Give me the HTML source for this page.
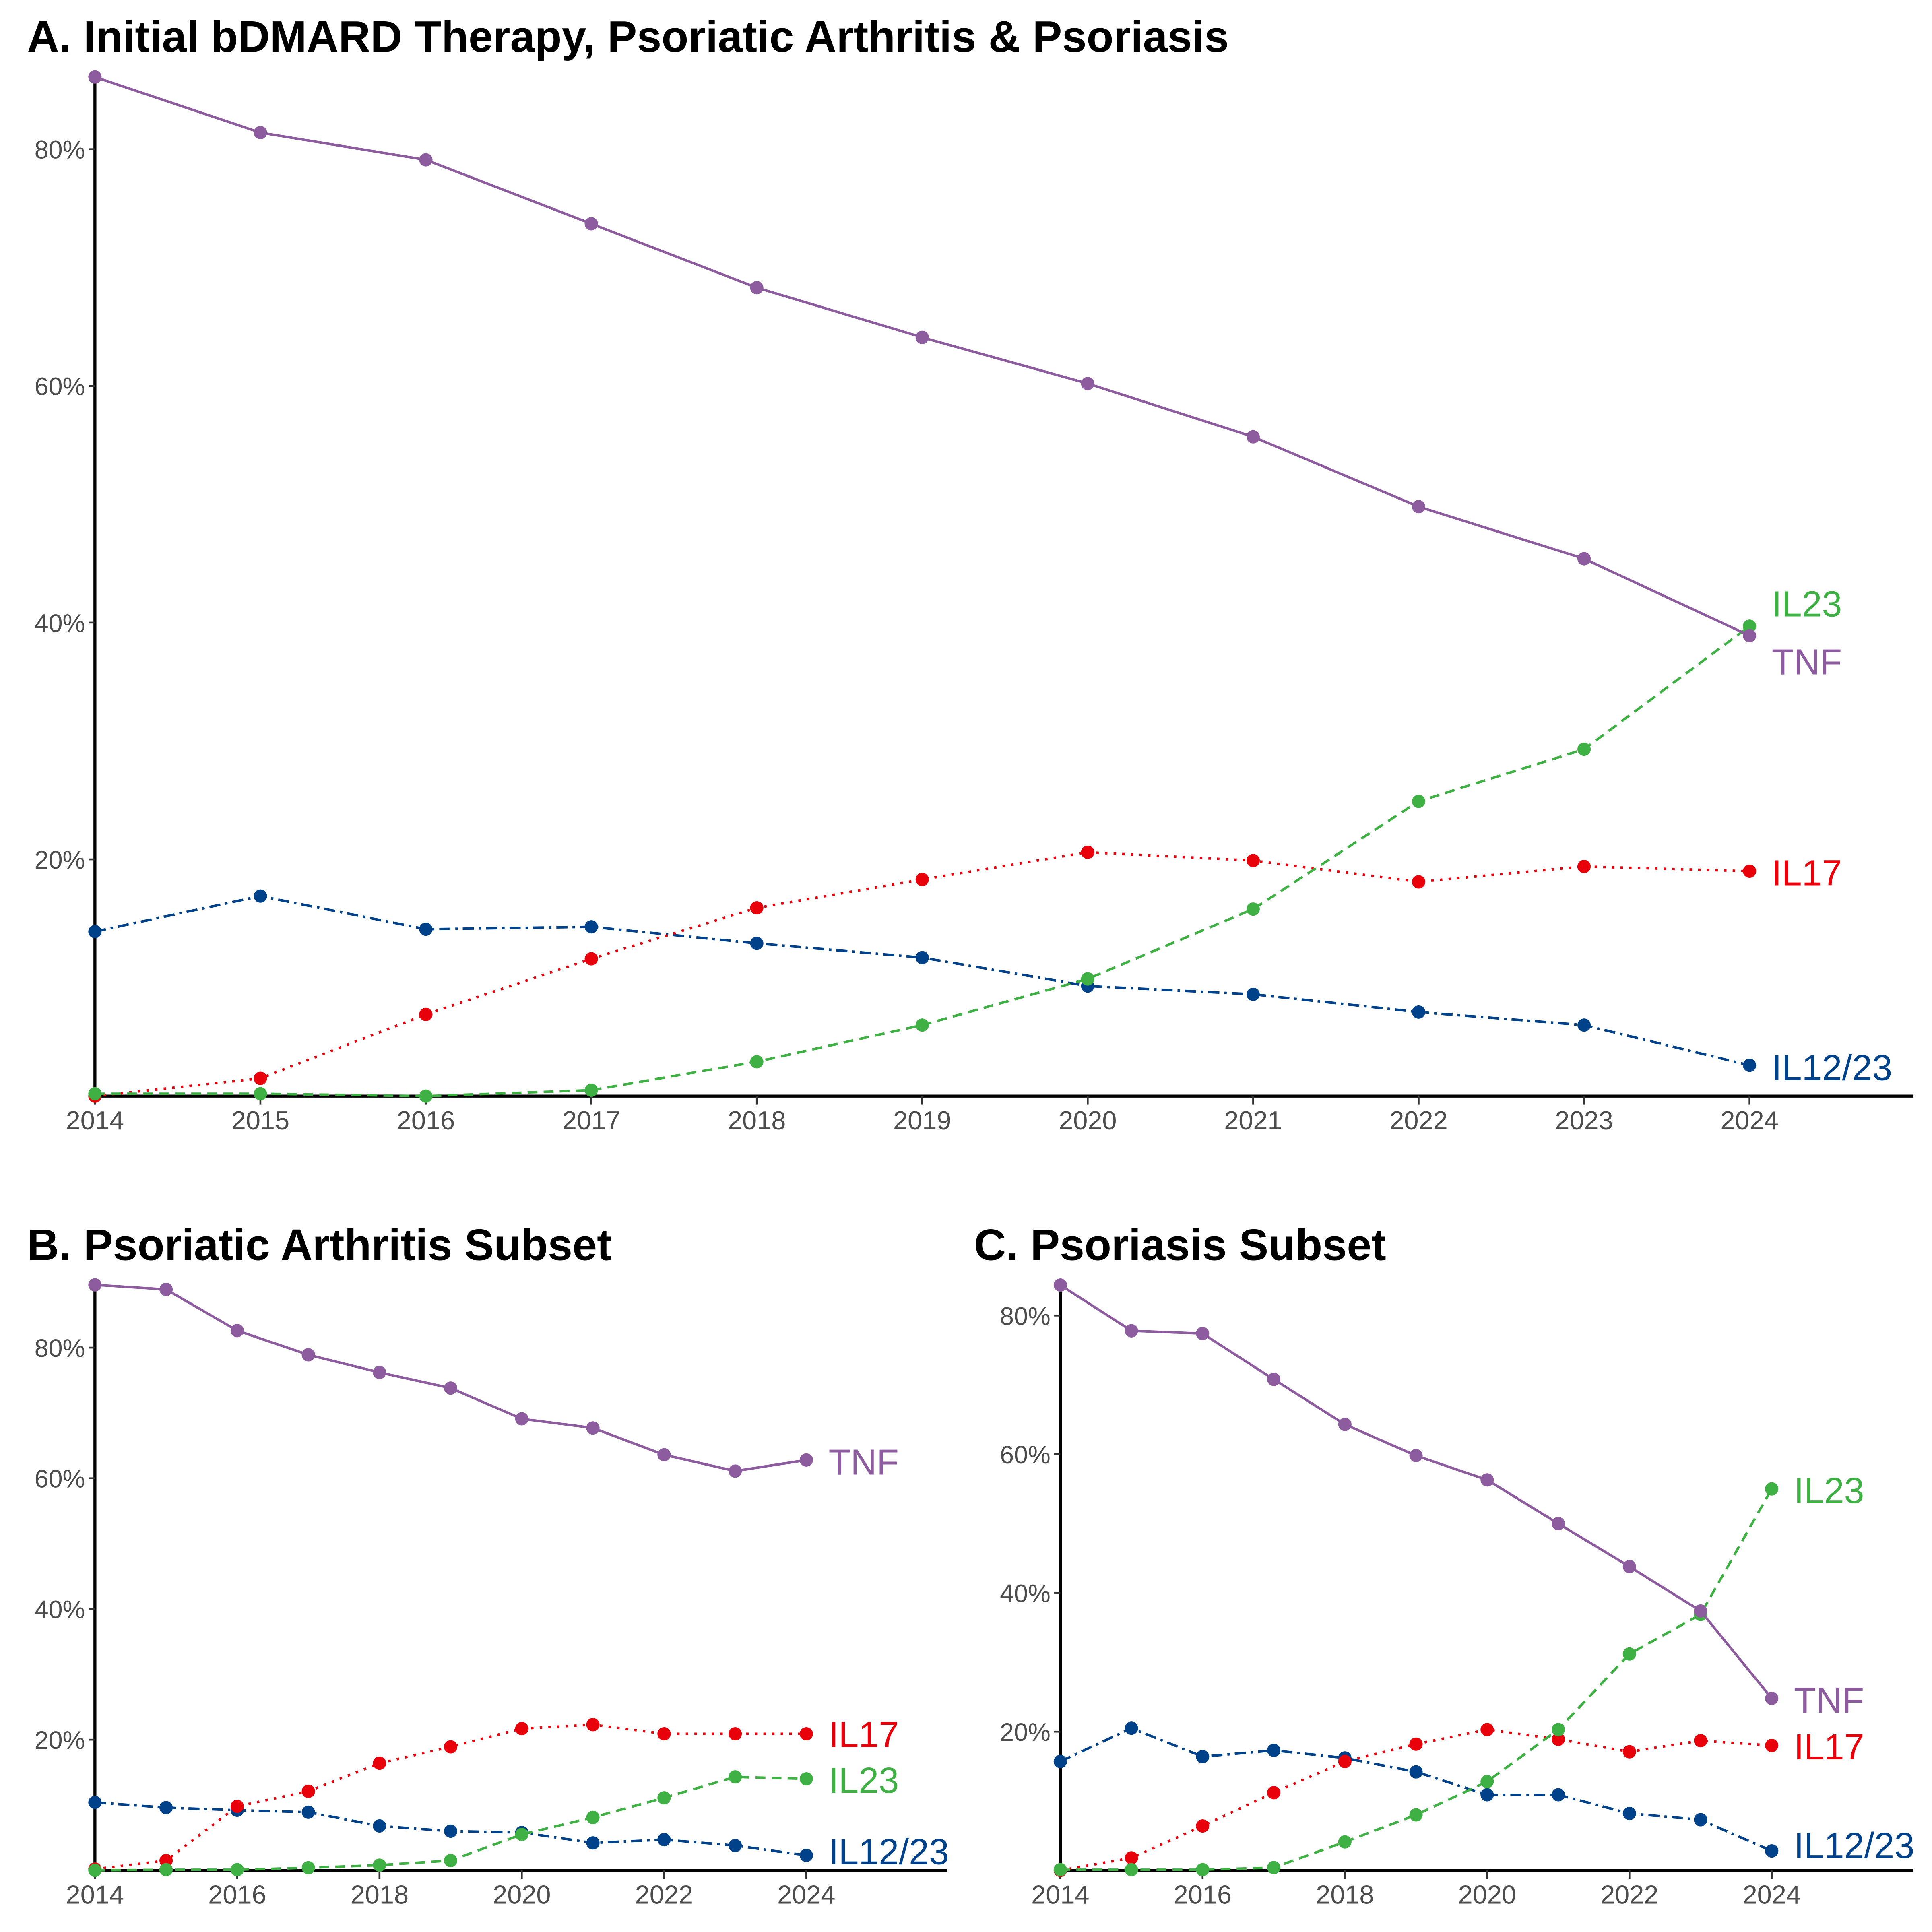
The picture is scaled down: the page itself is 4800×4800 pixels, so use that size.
<!DOCTYPE html>
<html><head><meta charset="utf-8"><style>
html,body{margin:0;padding:0;background:#fff;}
svg{display:block;}
text{font-family:"Liberation Sans",Arial,sans-serif;}
</style></head><body>
<svg id="chart" width="4800" height="4800" viewBox="0 0 1567 1567" xmlns="http://www.w3.org/2000/svg"></svg>
<script>
const years=[2014,2015,2016,2017,2018,2019,2020,2021,2022,2023,2024];
const seriesNames=["TNF","IL23","IL17","IL12/23"];
const aTNF=[86.1,81.4,79.1,73.7,68.3,64.1,60.2,55.7,49.8,45.4,38.9];
const aIL23=[0.2,0.2,0,0.5,2.9,6.0,9.9,15.8,24.9,29.3,39.7];
const aIL17=[0,1.5,6.9,11.6,15.9,18.3,20.6,19.9,18.1,19.4,19.0];
const aIL1223=[13.9,16.9,14.1,14.3,12.9,11.7,9.3,8.6,7.1,6.0,2.6];
const bTNF=[89.6,88.9,82.6,78.9,76.2,73.8,69.1,67.7,63.6,61.1,62.8];
const bIL23=[0,0.1,0.1,0.4,0.8,1.5,5.5,8.1,11.1,14.3,14.0];
const bIL17=[0.2,1.5,9.8,12.1,16.4,18.9,21.7,22.3,20.9,20.9,20.9];
const bIL1223=[10.4,9.6,9.2,8.9,6.8,6.0,5.8,4.2,4.7,3.8,2.3];
const cTNF=[84.4,77.8,77.4,70.8,64.3,59.8,56.3,50.0,43.8,37.4,24.8];
const cIL23=[0.1,0.1,0.1,0.4,4.1,8.0,12.8,20.3,31.2,36.9,55.0];
const cIL17=[0,1.8,6.4,11.2,15.7,18.2,20.3,18.9,17.1,18.7,18.0];
const cIL1223=[15.7,20.5,16.4,17.3,16.2,14.2,10.9,10.9,8.2,7.3,2.8];
const yTicks=[20,40,60,80];
const xTicksA=[2014,2015,2016,2017,2018,2019,2020,2021,2022,2023,2024];
const xTicksBC=[2014,2016,2018,2020,2022,2024];

const styles={"TNF":{c:"#8d5c9e",d:""},"IL23":{c:"#3fb144",d:"8,5"},"IL17":{c:"#e8000b",d:"2,5"},"IL12/23":{c:"#00428a",d:"9,4,2,4"}};
const NS="http://www.w3.org/2000/svg";
const svg=document.getElementById('chart');
function mk(tag,attrs,parent){const e=document.createElementNS(NS,tag);for(const k in attrs)e.setAttribute(k,attrs[k]);(parent||svg).appendChild(e);return e;}

function panel(p){
  const g=mk('g',{});
  
  
  const xs=v=>p.x0+(v-2014)*(p.x1-p.x0)/10;
  const ys=v=>p.y0-v*(p.y0-p.y80)/80;
  const t=mk('text',{x:p.tx,y:p.ty,'font-size':35.8,'font-weight':'bold',fill:'#000'},g);
  t.textContent=p.title;
  
  
  const ax=mk('line',{x1:p.x0,y1:p.top,x2:p.x0,y2:p.y0,stroke:'#000','stroke-width':2.4},g);
  
  
  const axx=mk('line',{x1:p.x0-1,y1:p.y0,x2:p.xend,y2:p.y0,stroke:'#000','stroke-width':2.4},g);
  
  
  yTicks.forEach(v=>{
    mk('line',{x1:p.x0-5,x2:p.x0,y1:ys(v),y2:ys(v),stroke:'#333','stroke-width':1.5},g);
    const l=mk('text',{x:p.x0-8,y:ys(v)+7.5,'font-size':20.5,fill:'#4d4d4d','text-anchor':'end'},g);
    l.textContent=v+'%';
    
    
  });
  p.xt.forEach(v=>{
    mk('line',{x1:xs(v),x2:xs(v),y1:p.y0,y2:p.y0+7,stroke:'#333','stroke-width':1.5},g);
    const l=mk('text',{x:xs(v),y:p.y0+27,'font-size':21.2,fill:'#4d4d4d','text-anchor':'middle'},g);
    l.textContent=v;
    
    
  });
  const order=["IL12/23","IL17","IL23","TNF"];
  order.forEach(n=>{
    const vals=p.data[n];const s=styles[n];
    const pts=vals.map((v,i)=>xs(years[i]).toFixed(2)+','+ys(v).toFixed(2)).join(' ');
    const pl=mk('polyline',{points:pts,fill:'none',stroke:s.c,'stroke-width':2,'stroke-dasharray':s.d},g);
    
    
    vals.forEach((v,i)=>{
      const c=mk('circle',{cx:xs(years[i]),cy:ys(v),r:5.4,fill:s.c},g);
      
      
    });
    const lb=mk('text',{x:xs(2024)+18,y:p.lab[n]+10,'font-size':29.3,fill:s.c},g);
    lb.textContent=n;
    
    
  });
}
panel({id:'a',title:'A. Initial bDMARD Therapy, Psoriatic Arthritis & Psoriasis',tx:22,ty:42,x0:77,x1:1419,xend:1552,y0:889,y80:121,top:62,xt:xTicksA,
 data:{"TNF":aTNF,"IL23":aIL23,"IL17":aIL17,"IL12/23":aIL1223},
 lab:{"IL23":490,"TNF":537,"IL17":708,"IL12/23":866}});
panel({id:'b',title:'B. Psoriatic Arthritis Subset',tx:22,ty:1022,x0:77,x1:654,xend:768,y0:1517,y80:1093,top:1042,xt:xTicksBC,
 data:{"TNF":bTNF,"IL23":bIL23,"IL17":bIL17,"IL12/23":bIL1223},
 lab:{"TNF":1186,"IL17":1407,"IL23":1444,"IL12/23":1502}});
panel({id:'c',title:'C. Psoriasis Subset',tx:790,ty:1022,x0:860,x1:1437,xend:1552,y0:1517,y80:1067,top:1042,xt:xTicksBC,
 data:{"TNF":cTNF,"IL23":cIL23,"IL17":cIL17,"IL12/23":cIL1223},
 lab:{"IL23":1209,"TNF":1379,"IL17":1417,"IL12/23":1497}});
</script>
</body></html>
